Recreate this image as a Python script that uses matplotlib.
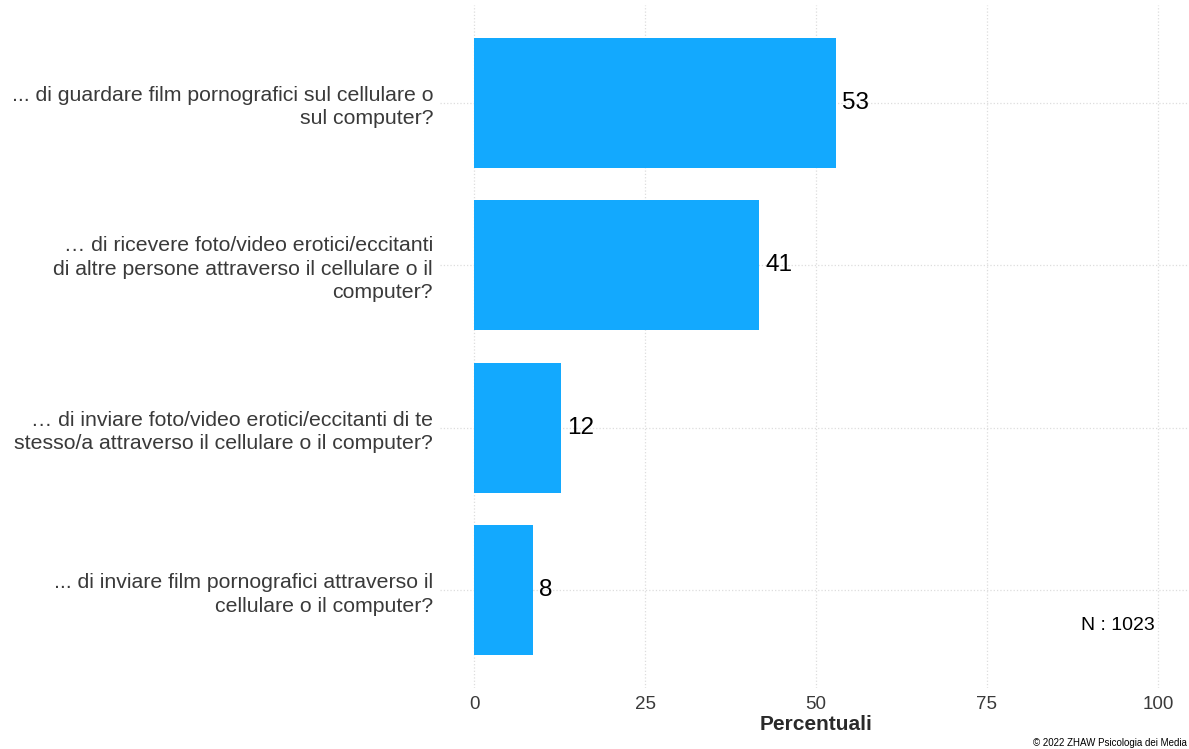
import matplotlib.pyplot as plt

plt.rcParams['font.family'] = ['Liberation Sans', 'DejaVu Sans']

# data (top to bottom in the picture)
domande = [
    "... di guardare film pornografici sul cellulare o\nsul computer?",
    "… di ricevere foto/video erotici/eccitanti\ndi altre persone attraverso il cellulare o il\ncomputer?",
    "… di inviare foto/video erotici/eccitanti di te\nstesso/a attraverso il cellulare o il computer?",
    "... di inviare film pornografici attraverso il\ncellulare o il computer?",
]
percentuali = [52.9, 41.7, 12.7, 8.6]
etichette = ["53", "41", "12", "8"]
n_totale = 1023

# plot from bottom up so the first item sits on top
y = list(range(len(domande), 0, -1))

fig = plt.figure(figsize=(11.89, 7.49), dpi=100)
ax = fig.add_axes([440 / 1189, 1 - 688 / 749, 752 / 1189, 683 / 749])

ax.barh(y, percentuali, height=0.8, color='#13A9FE', zorder=2)
for yi, v, lab in zip(y, percentuali, etichette):
    ax.text(v + 0.9, yi, lab, va='center', ha='left', fontsize=17.5, color='black')

ax.set_xlim(-5, 105)
ax.set_ylim(0.4, 4.6)
ax.set_xticks([0, 25, 50, 75, 100])
ax.set_yticks(y)
ax.set_yticklabels(domande, fontsize=15.3, color='#3a3a3a', linespacing=1.3)
ax.tick_params(axis='x', labelsize=13.5, labelcolor='#3a3a3a', length=0, pad=6)
ax.tick_params(axis='y', length=0, pad=5)

ax.grid(True, color='#dddddd', linestyle=':', linewidth=0.9, zorder=0)
for s in ax.spines.values():
    s.set_visible(False)

ax.set_xlabel('Percentuali', fontsize=15, fontweight='bold', color='#2a2a2a', labelpad=1)

ax.text(99.6, 0.785, f"N : {n_totale}", ha='right', va='center', fontsize=14, color='black')

fig.text(1187 / 1189, 1 / 749, "© 2022 ZHAW Psicologia dei Media", fontsize=7, color='black',
         ha='right', va='bottom')

fig.savefig('out.png', dpi=100)
